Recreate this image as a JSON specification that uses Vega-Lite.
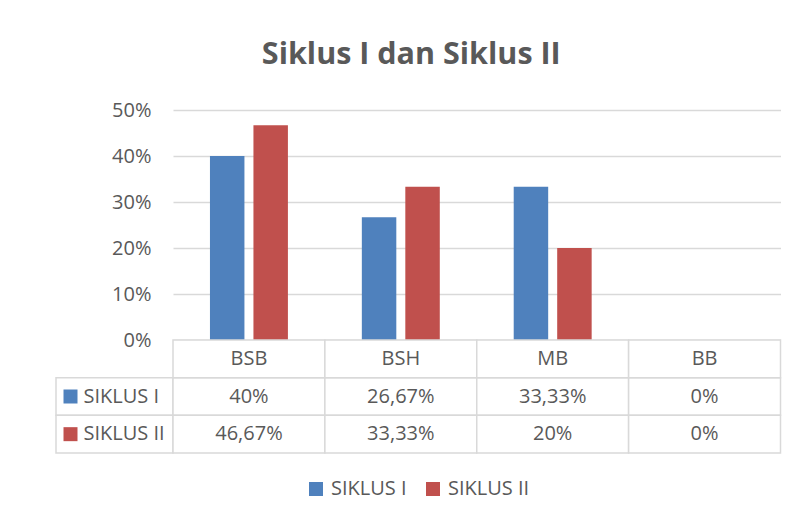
{
  "$schema": "https://vega.github.io/schema/vega-lite/v6.json",
  "background": "white",
  "padding": {"left": 55, "top": 39, "right": 0, "bottom": 0},
  "title": {"text": "Siklus I dan Siklus II", "font": "Open Sans", "fontSize": 30.5, "fontWeight": "bold", "color": "#595959", "anchor": "middle", "offset": 30, "dx": -7},
  "datasets": {
    "scores": [
      {"cat": "BSB", "series": "SIKLUS I", "value": 0.40},
      {"cat": "BSB", "series": "SIKLUS II", "value": 0.4667},
      {"cat": "BSH", "series": "SIKLUS I", "value": 0.2667},
      {"cat": "BSH", "series": "SIKLUS II", "value": 0.3333},
      {"cat": "MB", "series": "SIKLUS I", "value": 0.3333},
      {"cat": "MB", "series": "SIKLUS II", "value": 0.20},
      {"cat": "BB", "series": "SIKLUS I", "value": 0},
      {"cat": "BB", "series": "SIKLUS II", "value": 0}
    ]
  },
  "bounds": "flush",
  "spacing": 0,
  "columns": 2,
  "concat": [
    {"width": 117, "height": 230, "data": {"values": []}, "mark": {"type": "text"}, "encoding": {}},
    {
      "width": 607.5,
      "height": 230,
      "data": {"name": "scores"},
      "mark": {"type": "bar"},
      "encoding": {
        "x": {"field": "cat", "type": "nominal", "sort": ["BSB", "BSH", "MB", "BB"], "scale": {"paddingInner": 0, "paddingOuter": 0}, "axis": null},
        "xOffset": {"field": "series", "type": "nominal", "sort": ["SIKLUS I", "SIKLUS II"], "scale": {"paddingInner": 0.207, "paddingOuter": 0.85}},
        "y": {"field": "value", "type": "quantitative", "title": null, "scale": {"domain": [0, 0.5]},
              "axis": {"values": [0, 0.1, 0.2, 0.3, 0.4, 0.5], "format": ".0%", "grid": true, "ticks": false, "tickSize": 0, "domain": false, "labelPadding": 22, "gridColor": "#d9d9d9", "gridWidth": 1.3}},
        "color": {"field": "series", "type": "nominal",
                  "scale": {"domain": ["SIKLUS I", "SIKLUS II"], "range": ["#4F81BD", "#C0504D"]},
                  "legend": {"title": null, "orient": "bottom", "direction": "horizontal", "symbolType": "square", "symbolSize": 196, "symbolStrokeWidth": 0, "labelFont": "Open Sans", "labelFontSize": 20, "labelColor": "#595959", "labelLimit": 300, "columnPadding": 16, "labelOffset": 5, "offset": 25}}
      }
    },
    {
      "width": 117,
      "height": 113,
      "data": {"name": "scores"},
      "transform": [{"filter": "datum.cat === 'BSB'"}],
      "encoding": {
        "y": {"field": "series", "type": "nominal", "scale": {"domain": ["header", "SIKLUS I", "SIKLUS II"], "paddingInner": 0, "paddingOuter": 0}, "axis": null}
      },
      "layer": [
        {"mark": {"type": "rect", "fill": "white", "stroke": "#d9d9d9", "strokeWidth": 1.5}},
        {"mark": {"type": "point", "shape": "square", "filled": true, "opacity": 1, "size": 196, "xOffset": -44},
         "encoding": {"color": {"field": "series", "type": "nominal"}}},
        {"mark": {"type": "text", "align": "left", "baseline": "middle", "dx": -31, "font": "Open Sans", "fontSize": 20, "fill": "#595959"},
         "encoding": {"text": {"field": "series"}}}
      ]
    },
    {
      "width": 607.5,
      "height": 113,
      "data": {"name": "scores"},
      "encoding": {
        "x": {"field": "cat", "type": "nominal", "sort": ["BSB", "BSH", "MB", "BB"], "scale": {"paddingInner": 0, "paddingOuter": 0}, "axis": null}
      },
      "layer": [
        {"mark": {"type": "rect", "fill": "white", "stroke": "#d9d9d9", "strokeWidth": 1.5},
         "encoding": {"y": {"field": "series", "type": "nominal", "scale": {"domain": ["header", "SIKLUS I", "SIKLUS II"], "paddingInner": 0, "paddingOuter": 0}, "axis": null}}},
        {"transform": [{"filter": "datum.series === 'SIKLUS I'"}],
         "mark": {"type": "rect", "fill": "white", "stroke": "#d9d9d9", "strokeWidth": 1.5},
         "encoding": {"y": {"datum": "header", "type": "nominal"}}},
        {"mark": {"type": "text", "align": "center", "baseline": "middle", "font": "Open Sans", "fontSize": 20, "fill": "#595959"},
         "encoding": {"y": {"field": "series", "type": "nominal"}, "text": {"field": "value", "type": "quantitative", "format": ".2~%"}}},
        {"transform": [{"filter": "datum.series === 'SIKLUS I'"}],
         "mark": {"type": "text", "align": "center", "baseline": "middle", "font": "Open Sans", "fontSize": 20, "fill": "#595959"},
         "encoding": {"y": {"datum": "header", "type": "nominal"}, "text": {"field": "cat"}}}
      ]
    }
  ],
  "resolve": {"scale": {"color": "shared"}, "legend": {"color": "shared"}},
  "config": {
    "view": {"stroke": null},
    "font": "Open Sans",
    "locale": {"number": {"decimal": ",", "thousands": ".", "grouping": [3], "currency": ["Rp", ""]}},
    "axis": {"labelFont": "Open Sans", "labelFontSize": 20, "labelColor": "#595959"},
    "legend": {"layout": {"bottom": {"anchor": "middle"}}}
  }
}
